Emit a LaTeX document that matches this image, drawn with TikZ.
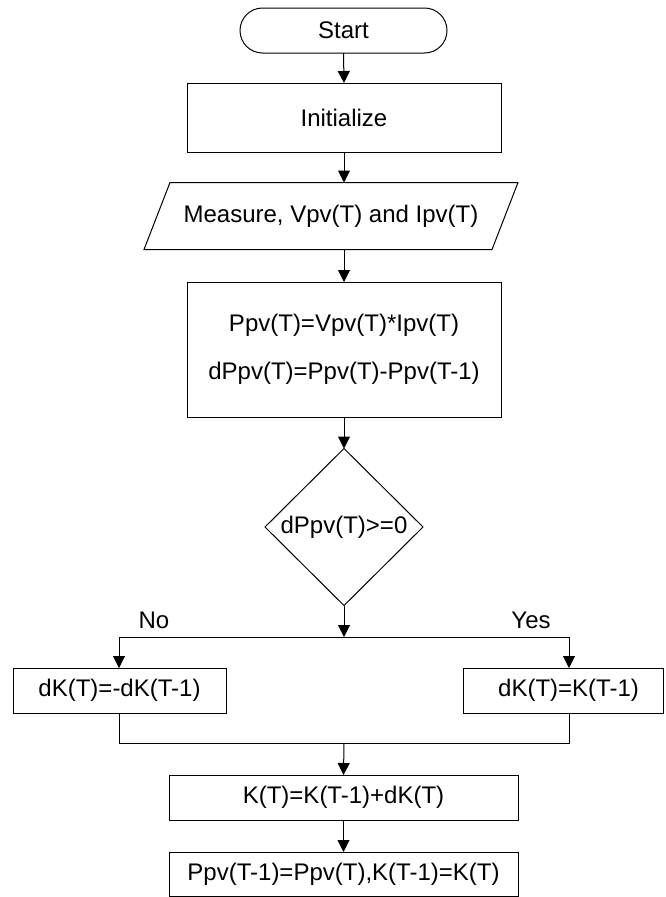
\documentclass[tikz,border=0pt]{standalone}
\usepackage{fontspec}
\setmainfont{Liberation Sans}
\usetikzlibrary{arrows.meta,shapes.geometric}
\begin{document}
\begin{tikzpicture}[x=1pt,y=1pt,
  font=\fontsize{24}{29}\selectfont,
  every node/.style={inner sep=0pt, outer sep=0pt},
  boxst/.style={draw, line width=1pt, rectangle, align=center},
  termst/.style={draw, line width=1pt, rectangle, rounded corners=22.5pt, minimum width=207pt, minimum height=45pt},
  decst/.style={draw, line width=1pt, diamond, minimum width=158pt, minimum height=157pt},
  lnk/.style={line width=1pt},
  arr/.style={line width=1pt, -{Triangle[width=12pt,length=12pt]}}
]
\useasboundingbox (0,0) rectangle (665,-897);

\node[termst] (start) at (343.5,-30.5) {Start};
\node[boxst, minimum width=314pt, minimum height=69pt] (init) at (344,-117.5) {Initialize};
\node[minimum width=374pt, minimum height=67pt] (meas) at (331,-216) {Measure, Vpv(T) and Ipv(T)};
\draw[lnk] (meas.south west) -- ([xshift=-26pt]meas.south east) -- (meas.north east) -- ([xshift=26pt]meas.north west) -- cycle;
\node[boxst, minimum width=314pt, minimum height=135pt] (proc) at (344,-349.5) {Ppv(T)=Vpv(T)*Ipv(T)\\[19pt]dPpv(T)=Ppv(T)-Ppv(T-1)};
\node[decst] (dec) at (344,-527) {dPpv(T)>=0};
\coordinate (jn) at (344,-637);
\coordinate (jl) at (119,-637);
\coordinate (jr) at (569,-637);
\node (no) at (154,-620) {No};
\node (yes) at (531,-620) {Yes};
\node[boxst, minimum width=213pt, minimum height=45pt] (left) at (119.5,-690.5) {dK(T)=-dK(T-1)};
\node[boxst, minimum width=200pt, minimum height=45pt] (right) at (563,-690.5) {\hspace*{11pt}dK(T)=K(T-1)};
\coordinate (ml) at (119,-743);
\coordinate (mr) at (569,-743);
\coordinate (mc) at (344,-743);
\node[boxst, minimum width=349pt, minimum height=45pt] (kbox) at (343.5,-797.5) {K(T)=K(T-1)+dK(T)};
\node[boxst, minimum width=349pt, minimum height=44pt] (last) at (343.5,-874) {Ppv(T-1)=Ppv(T),K(T-1)=K(T)};

\draw[arr] (start.south) -- (init.north);
\draw[arr] (init.south) -- (init.south |- meas.north);
\draw[arr] (init.south |- meas.south) -- (proc.north);
\draw[arr] (proc.south) -- (dec.north);
\draw[arr] (dec.south) -- (jn);
\draw[lnk] (jl) -- (jr);
\draw[arr] (jl) -- (jl |- left.north);
\draw[arr] (jr) -- (jr |- right.north);
\draw[lnk] (jl |- left.south) -- (ml) -- (mr) -- (jr |- right.south);
\draw[arr] (mc) -- (kbox.north);
\draw[arr] (kbox.south) -- (last.north);
\end{tikzpicture}
\end{document}
